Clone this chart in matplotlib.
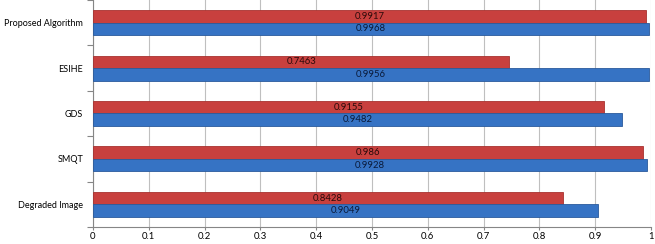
import matplotlib
matplotlib.use("Agg")
import matplotlib.pyplot as plt
import numpy as np

categories = ["Degraded Image", "SMQT", "GDS", "ESIHE", "Proposed Algorithm"]
red_vals = [0.8428, 0.986, 0.9155, 0.7463, 0.9917]
blue_vals = [0.9049, 0.9928, 0.9482, 0.9956, 0.9968]
red_labels = ["0.8428", "0.986", "0.9155", "0.7463", "0.9917"]
blue_labels = ["0.9049", "0.9928", "0.9482", "0.9956", "0.9968"]
xticks = [0, 0.1, 0.2, 0.3, 0.4, 0.5, 0.6, 0.7, 0.8, 0.9, 1]
xticklabels = ["0", "0.1", "0.2", "0.3", "0.4", "0.5", "0.6", "0.7", "0.8", "0.9", "1"]

plt.rcParams['font.family'] = ['Lato', 'DejaVu Sans']

fig = plt.figure(figsize=(6.55, 2.44), dpi=100)
ax = fig.add_axes([93/655, 1 - 227/244, (651 - 93)/655, 227/244])

h = 0.275
y = np.arange(len(categories))
red_c = "#C8403E"
blue_c = "#3673C4"
ax.barh(y + h/2, red_vals, height=h, color=red_c, edgecolor="#a8322f", linewidth=0.6, zorder=3)
ax.barh(y - h/2, blue_vals, height=h, color=blue_c, edgecolor="#2a5a9c", linewidth=0.6, zorder=3)

for yi, v, lab in zip(y, red_vals, red_labels):
    ax.text(v/2, yi + h/2, lab, ha="center", va="center", fontsize=6.8, color="#2a0a0a", zorder=4)
for yi, v, lab in zip(y, blue_vals, blue_labels):
    ax.text(v/2, yi - h/2, lab, ha="center", va="center", fontsize=6.8, color="#0a1a3a", zorder=4)

ax.set_xlim(0, 1)
ax.set_ylim(-0.5, len(categories) - 0.5)
ax.set_xticks(xticks)
ax.set_xticklabels(xticklabels, fontsize=6.8)
ax.set_yticks(np.arange(-0.5, len(categories), 1.0))
ax.set_yticklabels([])
ax.set_yticks(y, minor=True)
ax.set_yticklabels(categories, minor=True, fontsize=6.5)
ax.tick_params(axis="y", which="minor", length=0, pad=7)
ax.tick_params(axis="y", which="major", length=4, color="#868686", direction="out")
ax.tick_params(axis="x", length=2, color="#868686", direction="out", pad=1.5)

ax.grid(axis="x", color="#bfbfbf", linewidth=0.8, zorder=0)
for s in ["top", "right"]:
    ax.spines[s].set_visible(False)
for s in ["left", "bottom"]:
    ax.spines[s].set_color("#868686")
    ax.spines[s].set_linewidth(0.8)

fig.savefig("out.png", dpi=100)
